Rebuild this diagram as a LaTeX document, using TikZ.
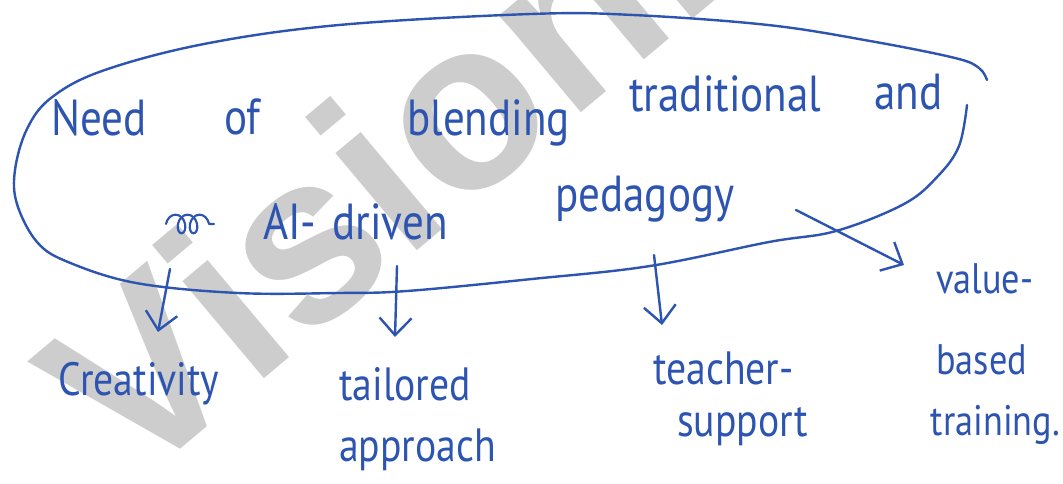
\documentclass[tikz,border=0pt]{standalone}
\usepackage{fontspec}
\setmainfont{PT Sans}[FakeStretch=0.85]
\newfontfamily\wmfont{Liberation Sans}
\usetikzlibrary{arrows.meta,decorations.pathmorphing}
\definecolor{ink}{RGB}{44,84,176}
\definecolor{wmgray}{RGB}{205,205,205}
\begin{document}
\begin{tikzpicture}[x=0.75pt,y=-0.75pt,
  pen/.style={draw=ink,line width=1.8pt,line cap=round,line join=round},
  word/.style={text=ink,font=\fontsize{38}{46}\selectfont,inner sep=0pt,anchor=base west},
  leaf/.style={text=ink,font=\fontsize{35}{45.75}\selectfont,inner sep=0pt,align=left,anchor=north west},
  branch/.style={pen,-{Straight Barb[length=13pt,width=24pt]}},
]
\useasboundingbox (0,0) rectangle (1063,484);
\fill[white] (0,0) rectangle (1063,484);

% faint watermark behind everything
\node[text=wmgray,font=\wmfont\bfseries\fontsize{180}{184}\selectfont,
      rotate=40,anchor=base west,inner sep=0pt] (wm) at (132,490) {VisionIAS};

% the loop round the central idea (open at the right)
\draw[pen] plot[smooth,tension=0.6] coordinates {
  (987,80) (979,68) (955,58) (870,41) (768,25) (633,15) (531,14) (339,25)
  (204,44) (102,71) (51,98) (27,129) (15,170) (17,204) (37,242) (68,262)
  (136,283) (238,293) (339,293) (407,291) (532,279) (650,266) (769,242)
  (836,231) (904,204) (938,176) (959,146) (967,105)};

% central idea, first line
\node[word] (w1) at (51,136) {Need};
\node[word] (w2) at (224,135) {of};
\node[word] (w3) at (407,136) {blending};
\node[word] (w4) at (629,112) {traditional};
\node[word] (w5) at (874,110) {and};

% central idea, second line (a crossed-out word, then the rest)
\coordinate (xa) at (166,224);
\coordinate (xb) at (214,224);
\draw[pen,line width=1.6pt,decorate,
      decoration={coil,aspect=0.7,segment length=9pt,amplitude=7pt}] (xa) -- (xb);
\node[word] (w6) at (263,240) {AI-\hspace{12pt}driven};
\node[word] (w7) at (555,212) {pedagogy};

% outcomes
\node[leaf] (creat) at (58,362) {Creativity};
\node[leaf] (tail) at (339,367) {tailored\\approach};
\node[leaf,font=\fontsize{35}{39}\selectfont] (teach) at (653,352) {teacher-\\\hspace{18pt}support};
\node[leaf,font=\fontsize{32}{45.75}\selectfont] (value) at (936,263) {value-\\[15pt]based\\[0pt]\hspace{-4pt}training.};

% branches from the loop to the outcomes
\coordinate (s1) at (170,269); \coordinate (e1) at (158,332);
\coordinate (s2) at (397,266); \coordinate (e2) at (395,337);
\coordinate (s3) at (654,255); \coordinate (e3) at (662,325);
\coordinate (s4) at (796,210); \coordinate (e4) at (904,265);
\draw[branch] (s1) -- (e1);
\draw[branch] (s2) -- (e2);
\draw[branch] (s3) -- (e3);
\draw[branch] (s4) -- (e4);
\end{tikzpicture}
\end{document}
